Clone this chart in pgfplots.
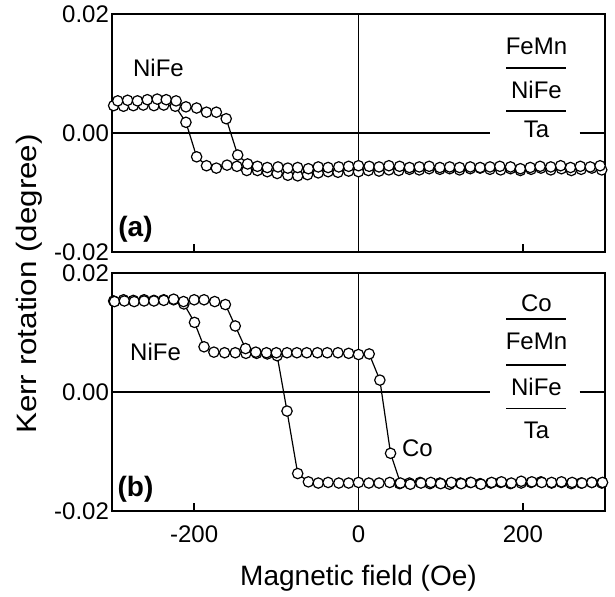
\documentclass[border=0pt]{standalone}
\usepackage{fontspec}
\setmainfont{Liberation Sans}
\usepackage{graphicx}
\usepackage{pgfplots}
\pgfplotsset{compat=1.18}

\pgfplotstableread{
x y
-298 0.0046
-286 0.0045
-274 0.0046
-262 0.0047
-249 0.0046
-237 0.0047
-223 0.0045
-210 0.0018
-197 -0.0040
-185 -0.0055
-173 -0.0059
-160 -0.0054
-148 -0.0056
-136 -0.0063
-123 -0.0063
-111 -0.0065
-99 -0.0068
-86 -0.0071
-74 -0.0072
-62 -0.0070
-49 -0.0067
-37 -0.0065
-25 -0.0066
-12 -0.0064
0 -0.0065
12 -0.0063
25 -0.0064
37 -0.0062
49 -0.0063
62 -0.0061
74 -0.0062
86 -0.0060
99 -0.0061
111 -0.0060
123 -0.0062
136 -0.0060
148 -0.0059
160 -0.0061
173 -0.0062
185 -0.0060
197 -0.0063
210 -0.0061
222 -0.0059
234 -0.0062
247 -0.0060
259 -0.0063
271 -0.0061
284 -0.0059
296 -0.0062
}\topdown

\pgfplotstableread{
x y
-293 0.0054
-281 0.0055
-269 0.0054
-257 0.0056
-245 0.0057
-234 0.0056
-222 0.0054
-210 0.0044
-197 0.0042
-185 0.0035
-173 0.0035
-161 0.0024
-147 -0.0037
-135 -0.0052
-123 -0.0056
-111 -0.0058
-98 -0.0057
-86 -0.0059
-74 -0.0058
-61 -0.0060
-49 -0.0057
-37 -0.0058
-24 -0.0057
-12 -0.0056
0 -0.0055
13 -0.0056
25 -0.0057
37 -0.0055
50 -0.0056
62 -0.0058
74 -0.0057
86 -0.0056
99 -0.0058
111 -0.0057
123 -0.0058
136 -0.0057
148 -0.0058
160 -0.0057
172 -0.0056
185 -0.0057
197 -0.0060
209 -0.0058
221 -0.0056
234 -0.0057
246 -0.0055
258 -0.0058
270 -0.0056
282 -0.0057
294 -0.0055
}\topup

\pgfplotstableread{
x y
-298 0.0153
-286 0.0155
-274 0.0154
-261 0.0155
-249 0.0154
-237 0.0155
-225 0.0155
-212.5 0.0148
-199.6 0.0117
-188 0.0076
-176 0.0067
-163 0.0066
-150 0.0066
-137 0.0065
-124 0.0065
-111 0.0064
-99 0.0061
-87 -0.0032
-74 -0.0137
-61 -0.0151
-49 -0.0153
-37 -0.0152
-24 -0.0153
-12 -0.0153
0 -0.0152
12.6 -0.0153
25 -0.0153
38 -0.0152
50 -0.0154
62 -0.0153
75 -0.0152
87 -0.0154
99 -0.0153
111 -0.0155
124 -0.0153
136 -0.0152
148 -0.0154
161 -0.0153
173 -0.0152
185 -0.0154
198 -0.0153
210 -0.0152
222 -0.0151
235 -0.0153
247 -0.0152
259 -0.0154
271 -0.0153
284 -0.0152
296 -0.0153
}\botdown

\pgfplotstableread{
x y
-297 0.0152
-285 0.0153
-273 0.0152
-261 0.0153
-249 0.0153
-237 0.0154
-225 0.0156
-213 0.0152
-200 0.0155
-188 0.0155
-175 0.0152
-162 0.0147
-150 0.0111
-137.5 0.0073
-125 0.0067
-112 0.0066
-100 0.0066
-87 0.0066
-75 0.0066
-63 0.0066
-50 0.0066
-38 0.0066
-25 0.0066
-12 0.0065
0 0.0063
13 0.0064
26 0.0020
39 -0.0103
51 -0.0153
63 -0.0155
76 -0.0153
88 -0.0152
100 -0.0154
113 -0.0152
125 -0.0154
137 -0.0152
149 -0.0155
162 -0.0152
174 -0.0151
186 -0.0153
198 -0.0150
211 -0.0151
223 -0.0152
235 -0.0152
247 -0.0151
260 -0.0152
272 -0.0153
284 -0.0152
297 -0.0152
}\botup

\pgfplotsset{
  kerr/.style={
    scale only axis, width=246.5pt, height=119pt,
    xmin=-300, xmax=300, ymin=-0.02, ymax=0.02,
    axis line style={line width=0.9pt},
    xtick={-200,0,200}, ytick={-0.02,0,0.02},
    yticklabels={-0.02,0.00,0.02},
    scaled y ticks=false, scaled x ticks=false,
    tick align=inside, xtick pos=bottom, ytick pos=left,
    major tick length=4pt,
    tick style={line width=0.8pt, black},
    yticklabel style={font=\fontsize{12}{14}\selectfont, xshift=2pt},
    xticklabel style={font=\fontsize{12}{14}\selectfont, yshift=-3.8pt},
    clip=false,
  },
  hyst/.style={black, line width=0.6pt, mark=*, mark size=2.6pt,
    mark options={fill=white, draw=black, line width=0.6pt}},
}

\begin{document}
\begin{tikzpicture}
% top panel (a)
\begin{axis}[kerr, at={(56pt,172pt)}, anchor=south west,
  xticklabels={,,}]
  \draw[line width=0.8pt] (axis cs:0,-0.02) -- (axis cs:0,0.02);
  \draw[line width=0.8pt] (axis cs:-300,0) -- (axis cs:160.6,0);
  \draw[line width=0.8pt] (axis cs:269,0) -- (axis cs:300,0);
  \addplot[hyst] table {\topdown};
  \addplot[hyst] table {\topup};
  \node[font=\fontsize{12}{14}\selectfont] at (axis cs:-243.4,0.0109) {NiFe};
  \node[font=\fontsize{14}{16}\selectfont\bfseries] at (axis cs:-271.4,-0.0161) {(a)};
  \node[font=\fontsize{12}{14}\selectfont] at (axis cs:216.6,0.0145) {FeMn};
  \draw[line width=0.8pt] (axis cs:180.1,0.01097) -- (axis cs:253.1,0.01097);
  \node[font=\fontsize{12}{14}\selectfont] at (axis cs:216.6,0.00723) {NiFe};
  \draw[line width=0.8pt] (axis cs:180.1,0.0037) -- (axis cs:253.1,0.0037);
  \node[font=\fontsize{12}{14}\selectfont] at (axis cs:216.6,0.00055) {Ta};
\end{axis}
% bottom panel (b)
\begin{axis}[kerr, at={(56pt,42.5pt)}, anchor=south west,
  xticklabels={-200,0,200},
  xlabel={Magnetic field (Oe)},
  xlabel style={font=\fontsize{14}{16}\selectfont, at={(axis description cs:0.5,-0.311)}, anchor=base},
  ylabel={\scalebox{1.12}[1]{Kerr rotation (degree)}},
  ylabel style={font=\fontsize{14}{16}\selectfont, at={(axis description cs:-0.1529,0.9538)}, anchor=base}]
  \draw[line width=0.8pt] (axis cs:0,-0.02) -- (axis cs:0,0.02);
  \draw[line width=0.8pt] (axis cs:-300,0) -- (axis cs:160.6,0);
  \draw[line width=0.8pt] (axis cs:269,0) -- (axis cs:300,0);
  \addplot[hyst] table {\botdown};
  \addplot[hyst] table {\botup};
  \node[font=\fontsize{12}{14}\selectfont] at (axis cs:-247,0.00677) {NiFe};
  \node[font=\fontsize{12}{14}\selectfont] at (axis cs:71.8,-0.00946) {Co};
  \node[font=\fontsize{14}{16}\selectfont\bfseries] at (axis cs:-271.4,-0.0163) {(b)};
  \node[font=\fontsize{12}{14}\selectfont] at (axis cs:216.6,0.01496) {Co};
  \draw[line width=0.8pt] (axis cs:180.1,0.01227) -- (axis cs:253.1,0.01227);
  \node[font=\fontsize{12}{14}\selectfont] at (axis cs:216.6,0.00845) {FeMn};
  \draw[line width=0.8pt] (axis cs:180.1,0.00454) -- (axis cs:253.1,0.00454);
  \node[font=\fontsize{12}{14}\selectfont] at (axis cs:216.6,0.00089) {NiFe};
  \draw[line width=0.8pt] (axis cs:180.1,-0.00274) -- (axis cs:253.1,-0.00274);
  \node[font=\fontsize{12}{14}\selectfont] at (axis cs:216.6,-0.00639) {Ta};
\end{axis}
\pgfresetboundingbox
\path (0,0) rectangle (307.5pt,298pt);
\end{tikzpicture}
\end{document}
